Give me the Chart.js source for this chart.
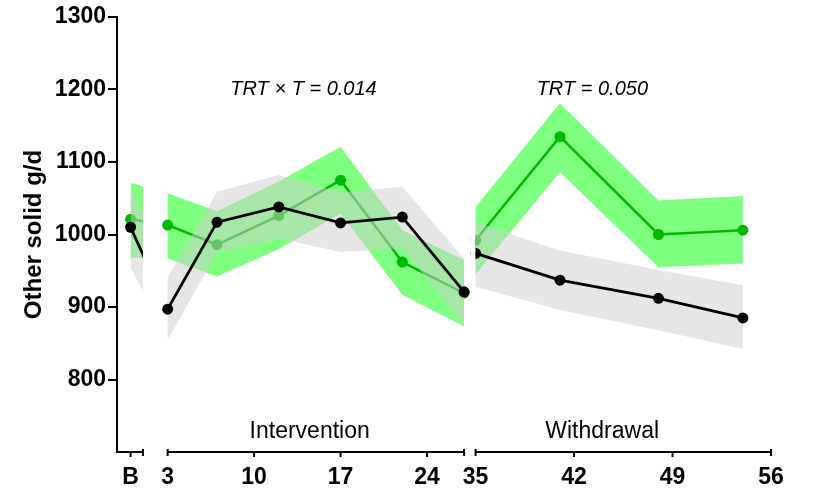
<!DOCTYPE html>
<html lang="en">
<head>
<meta charset="UTF-8">
<title>Other solid g/d</title>
<script src="https://cdn.jsdelivr.net/npm/chart.js@4.4.1/dist/chart.umd.min.js"></script>
<style>
  html, body { margin: 0; padding: 0; background: #fff; }
  #wrap { width: 813px; height: 489px; }
</style>
</head>
<body>
<div id="wrap"><canvas id="chart"></canvas></div>
<script>
// sampling days, B (baseline) sits at day 0
var days = [0, 3, 7, 12, 17, 22, 27, 35, 41, 48, 54];

// treated group (green): mean and band edges, g/d
var trtMean = [1021, 1013, 986, 1026, 1075, 962, 919, 992, 1135, 1000, 1006];
var trtHigh = [1071, 1057, 1032, 1073, 1121, 1006, 965, 1038, 1181, 1047, 1053];
var trtLow  = [968, 967, 942, 980, 1029, 917, 873, 945, 1086, 955, 960];

// control group (black)
var ctlMean = [1010, 897, 1017, 1038, 1016, 1024, 921, 974, 937, 912, 885];
var ctlHigh = [1065, 941, 1059, 1082, 1058, 1066, 967, 1017, 978, 951, 930];
var ctlLow  = [955, 855, 975, 995, 976, 981, 876, 928, 896, 868, 842];

var tickDays   = [0, 3, 10, 17, 24, 35, 42, 49, 56];
var tickLabels = ['B', '3', '10', '17', '24', '35', '42', '49', '56'];

// pieces of the broken x axis (days): baseline, intervention, withdrawal
var segments = [[-1.1, 1], [3, 27], [35, 56]];

var notes = [
  { text: 'TRT \u00d7 T = 0.014', day: 14, value: 1200, font: 'italic 20px' },
  { text: 'TRT = 0.050', day: 43.3, value: 1200, font: 'italic 20px' },
  { text: 'Intervention', day: 14.5, value: 728, font: '23px' },
  { text: 'Withdrawal', day: 44, value: 728, font: '23px' }
];

var FONT = "'Liberation Sans', Arial, Helvetica, sans-serif";
var GREEN = 'rgb(0, 184, 0)';

// withdrawal part of the axis is drawn a bit wider than the intervention part
function xv(day) {
  return day < 35 ? day : 27.93 + (day - 35) * 1.139;
}

function pts(vals) {
  return days.map(function(d, i) { return { x: xv(d), y: vals[i] }; });
}

var lineClip = segments.map(function(s) { return [xv(s[0]), xv(s[1])]; });
var pointClip = [[xv(-1.1), 27.5], [xv(35), xv(56)]];

// clip a dataset (and its fill) to parts of the x axis
var segClip = {
  id: 'segClip',
  beforeDatasetDraw: function(chart, args) {
    var ranges = chart.data.datasets[args.index].clipRanges;
    if (!ranges) return;
    var ctx = chart.ctx, x = chart.scales.x;
    ctx.save();
    ctx.beginPath();
    ranges.forEach(function(r) {
      var a = x.getPixelForValue(r[0]), b = x.getPixelForValue(r[1]);
      ctx.rect(a, 0, b - a, chart.height);
    });
    ctx.clip();
  },
  afterDatasetDraw: function(chart, args) {
    if (chart.data.datasets[args.index].clipRanges) chart.ctx.restore();
  }
};

// put the clip before the filler so the bands get clipped too
var filler = Chart.registry.getPlugin('filler');
Chart.unregister(filler);
Chart.register(segClip, filler);

var brokenAxis = {
  id: 'brokenAxis',
  afterDraw: function(chart) {
    var ctx = chart.ctx, x = chart.scales.x, y = chart.scales.y;
    var y0 = chart.chartArea.bottom;
    var ends = [];
    ctx.save();
    ctx.strokeStyle = '#000';
    ctx.lineWidth = 2;
    segments.forEach(function(s, i) {
      var a = x.getPixelForValue(xv(s[0])), b = x.getPixelForValue(xv(s[1]));
      if (i === 0) a -= 1;
      ctx.beginPath();
      ctx.moveTo(a, y0);
      ctx.lineTo(b, y0);
      ctx.stroke();
      if (i > 0) { ends.push(s[0]); ctx.beginPath(); ctx.moveTo(a, y0 - 3); ctx.lineTo(a, y0 + 4); ctx.stroke(); }
      ends.push(s[1]);
      ctx.beginPath(); ctx.moveTo(b, y0 - 3); ctx.lineTo(b, y0 + 4); ctx.stroke();
    });
    tickDays.forEach(function(d) {
      if (ends.indexOf(d) >= 0) return;
      var p = x.getPixelForValue(xv(d));
      ctx.beginPath(); ctx.moveTo(p, y0); ctx.lineTo(p, y0 + 5); ctx.stroke();
    });

    ctx.fillStyle = '#000';
    ctx.textAlign = 'center';
    ctx.textBaseline = 'middle';
    notes.forEach(function(n) {
      ctx.font = n.font + ' ' + FONT;
      ctx.fillText(n.text, x.getPixelForValue(xv(n.day)), y.getPixelForValue(n.value));
    });
    ctx.restore();
  }
};

var config = {
  type: 'line',
  data: {
    datasets: [
      { data: pts(trtHigh), fill: '+1', backgroundColor: 'rgba(0, 255, 0, 0.5)',
        borderWidth: 0, borderColor: 'rgba(0,0,0,0)', pointRadius: 0, order: 6, clipRanges: lineClip },
      { data: pts(trtLow), fill: false, borderWidth: 0, borderColor: 'rgba(0,0,0,0)', pointRadius: 0, order: 6 },
      { data: pts(trtMean), fill: false, borderColor: GREEN, borderWidth: 2.5, pointRadius: 0,
        order: 5, clipRanges: lineClip },
      { data: pts(trtMean), showLine: false, pointRadius: 5.5, pointBorderWidth: 0,
        pointBackgroundColor: GREEN, order: 4, clipRanges: pointClip },
      { data: pts(ctlHigh), fill: '+1', backgroundColor: 'rgba(205, 205, 205, 0.5)',
        borderWidth: 0, borderColor: 'rgba(0,0,0,0)', pointRadius: 0, order: 3, clipRanges: lineClip },
      { data: pts(ctlLow), fill: false, borderWidth: 0, borderColor: 'rgba(0,0,0,0)', pointRadius: 0, order: 3 },
      { data: pts(ctlMean), fill: false, borderColor: '#000', borderWidth: 2.8, pointRadius: 0,
        order: 2, clipRanges: lineClip },
      { data: pts(ctlMean), showLine: false, pointRadius: 5.5, pointBorderWidth: 0,
        pointBackgroundColor: '#000', order: 1, clipRanges: pointClip }
    ]
  },
  options: {
    responsive: true,
    maintainAspectRatio: false,
    animation: false,
    devicePixelRatio: 1,
    layout: { padding: { top: 17, right: 42, left: 0, bottom: 0 } },
    elements: { line: { tension: 0 } },
    plugins: {
      legend: { display: false },
      tooltip: { enabled: false }
    },
    scales: {
      x: {
        type: 'linear',
        bounds: 'data',
        min: xv(-1.1),
        max: xv(56),
        afterBuildTicks: function(scale) {
          scale.ticks = tickDays.map(function(d) { return { value: xv(d) }; });
        },
        afterFit: function(scale) { scale.height = 37; },
        grid: { display: false, drawTicks: false },
        border: { display: false },
        ticks: {
          autoSkip: false,
          maxRotation: 0,
          padding: 12,
          color: '#000',
          font: { family: FONT, size: 23, weight: 'bold' },
          callback: function(v, i) { return tickLabels[i]; }
        }
      },
      y: {
        min: 700,
        max: 1300,
        afterFit: function(scale) { scale.width = 117; },
        border: { display: true, color: '#000', width: 2 },
        grid: {
          drawOnChartArea: false,
          drawTicks: true,
          tickLength: 9,
          lineWidth: 2,
          color: function(c) { return c.tick && c.tick.value === 700 ? 'rgba(0,0,0,0)' : '#000'; }
        },
        ticks: {
          stepSize: 100,
          padding: 2,
          color: '#000',
          font: { family: FONT, size: 23, weight: 'bold' },
          callback: function(v) { return v === 700 ? '' : v; }
        },
        title: {
          display: true,
          text: 'Other solid g/d',
          color: '#000',
          padding: { top: 20, bottom: 0 },
          font: { family: FONT, size: 24, weight: 'bold' }
        }
      }
    }
  },
  plugins: [brokenAxis]
};

window.onload = function() {
  var ctx = document.getElementById('chart').getContext('2d');
  window.myChart = new Chart(ctx, config);
};
</script>
</body>
</html>
